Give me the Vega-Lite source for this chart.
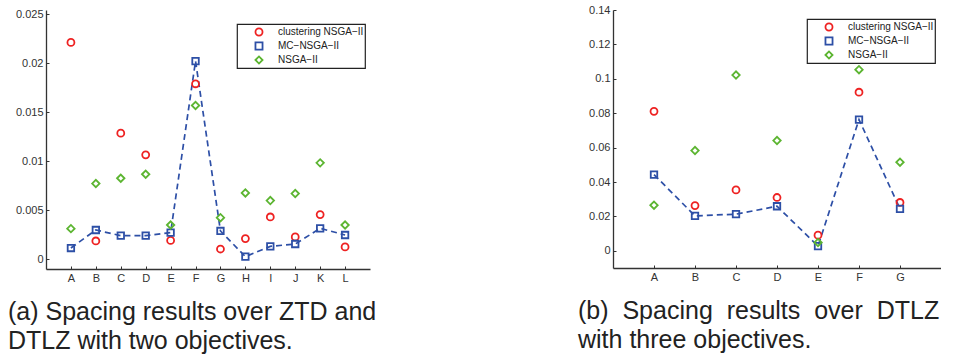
{
  "$schema": "https://vega.github.io/schema/vega-lite/v6.json",
  "background": "white",
  "padding": {"left": 8, "top": 4, "right": 0, "bottom": 0},
  "bounds": "flush",
  "spacing": 243,
  "config": {
    "view": {"stroke": null},
    "font": "Liberation Sans",
    "axis": {
      "grid": false,
      "domainColor": "#333333",
      "domainWidth": 1.3,
      "tickColor": "#333333",
      "tickSize": -3,
      "tickWidth": 1,
      "labelFont": "Liberation Sans",
      "labelFontSize": 11,
      "labelColor": "#333333",
      "labelPadding": 6,
      "labelOverlap": false,
      "labelBound": false,
      "title": null
    },
    "legend": {
      "orient": "none",
      "title": null,
      "strokeColor": "#222222",
      "strokeWidth": 1.2,
      "fillColor": "white",
      "padding": 1,
      "rowPadding": 0,
      "clipHeight": 14,
      "symbolSize": 50,
      "symbolStrokeWidth": 1.8,
      "symbolOffset": 16,
      "labelOffset": 14,
      "labelFont": "Liberation Sans",
      "labelFontSize": 10,
      "labelColor": "#222222"
    },
    "title": {
      "font": "Liberation Sans",
      "fontSize": 25,
      "fontWeight": "normal",
      "color": "#222222",
      "lineHeight": 29,
      "orient": "bottom",
      "anchor": "start",
      "frame": "group"
    }
  },
  "datasets": {
    "a": [
      {"algo": "clustering NSGA−II", "x": "A", "y": 0.0221},
      {"algo": "clustering NSGA−II", "x": "B", "y": 0.00184},
      {"algo": "clustering NSGA−II", "x": "C", "y": 0.01284},
      {"algo": "clustering NSGA−II", "x": "D", "y": 0.01063},
      {"algo": "clustering NSGA−II", "x": "E", "y": 0.0019},
      {"algo": "clustering NSGA−II", "x": "F", "y": 0.01788},
      {"algo": "clustering NSGA−II", "x": "G", "y": 0.00102},
      {"algo": "clustering NSGA−II", "x": "H", "y": 0.00208},
      {"algo": "clustering NSGA−II", "x": "I", "y": 0.00429},
      {"algo": "clustering NSGA−II", "x": "J", "y": 0.00225},
      {"algo": "clustering NSGA−II", "x": "K", "y": 0.00453},
      {"algo": "clustering NSGA−II", "x": "L", "y": 0.00123},
      {"algo": "MC−NSGA−II", "x": "A", "y": 0.00112},
      {"algo": "MC−NSGA−II", "x": "B", "y": 0.00296},
      {"algo": "MC−NSGA−II", "x": "C", "y": 0.00238},
      {"algo": "MC−NSGA−II", "x": "D", "y": 0.00238},
      {"algo": "MC−NSGA−II", "x": "E", "y": 0.00269},
      {"algo": "MC−NSGA−II", "x": "F", "y": 0.0202},
      {"algo": "MC−NSGA−II", "x": "G", "y": 0.00286},
      {"algo": "MC−NSGA−II", "x": "H", "y": 0.00024},
      {"algo": "MC−NSGA−II", "x": "I", "y": 0.00129},
      {"algo": "MC−NSGA−II", "x": "J", "y": 0.00153},
      {"algo": "MC−NSGA−II", "x": "K", "y": 0.00313},
      {"algo": "MC−NSGA−II", "x": "L", "y": 0.00245},
      {"algo": "NSGA−II", "x": "A", "y": 0.0031},
      {"algo": "NSGA−II", "x": "B", "y": 0.0077},
      {"algo": "NSGA−II", "x": "C", "y": 0.00824},
      {"algo": "NSGA−II", "x": "D", "y": 0.00865},
      {"algo": "NSGA−II", "x": "E", "y": 0.00347},
      {"algo": "NSGA−II", "x": "F", "y": 0.01567},
      {"algo": "NSGA−II", "x": "G", "y": 0.00422},
      {"algo": "NSGA−II", "x": "H", "y": 0.00674},
      {"algo": "NSGA−II", "x": "I", "y": 0.00596},
      {"algo": "NSGA−II", "x": "J", "y": 0.00668},
      {"algo": "NSGA−II", "x": "K", "y": 0.00981},
      {"algo": "NSGA−II", "x": "L", "y": 0.00347}
    ],
    "b": [
      {"algo": "clustering NSGA−II", "x": "A", "y": 0.0811},
      {"algo": "clustering NSGA−II", "x": "B", "y": 0.0263},
      {"algo": "clustering NSGA−II", "x": "C", "y": 0.0354},
      {"algo": "clustering NSGA−II", "x": "D", "y": 0.031},
      {"algo": "clustering NSGA−II", "x": "E", "y": 0.0091},
      {"algo": "clustering NSGA−II", "x": "F", "y": 0.0922},
      {"algo": "clustering NSGA−II", "x": "G", "y": 0.0281},
      {"algo": "MC−NSGA−II", "x": "A", "y": 0.0443},
      {"algo": "MC−NSGA−II", "x": "B", "y": 0.0203},
      {"algo": "MC−NSGA−II", "x": "C", "y": 0.0213},
      {"algo": "MC−NSGA−II", "x": "D", "y": 0.0259},
      {"algo": "MC−NSGA−II", "x": "E", "y": 0.0027},
      {"algo": "MC−NSGA−II", "x": "F", "y": 0.0763},
      {"algo": "MC−NSGA−II", "x": "G", "y": 0.0244},
      {"algo": "NSGA−II", "x": "A", "y": 0.0265},
      {"algo": "NSGA−II", "x": "B", "y": 0.0583},
      {"algo": "NSGA−II", "x": "C", "y": 0.1022},
      {"algo": "NSGA−II", "x": "D", "y": 0.0641},
      {"algo": "NSGA−II", "x": "E", "y": 0.0048},
      {"algo": "NSGA−II", "x": "F", "y": 0.1053},
      {"algo": "NSGA−II", "x": "G", "y": 0.0515}
    ]
  },
  "resolve": {
    "scale": {"x": "independent", "y": "independent", "color": "independent", "shape": "independent", "size": "independent"},
    "legend": {"color": "independent", "shape": "independent", "size": "independent"}
  },
  "hconcat": [
    {
      "width": 324,
      "height": 259,
      "data": {"name": "a"},
      "title": {"text": ["(a) Spacing results over ZTD and", "DTLZ with two objectives."], "dx": -38, "offset": 17},
      "layer": [
        {
          "transform": [{"filter": "datum.algo === 'MC−NSGA−II'"}],
          "mark": {"type": "line", "color": "#2d4fa6", "strokeDash": [6, 4], "strokeWidth": 1.7},
          "encoding": {
            "x": {"field": "x", "type": "ordinal", "scale": {"type": "point", "padding": 1}, "axis": {"labelAngle": 0}},
            "y": {"field": "y", "type": "quantitative", "scale": {"domain": [-0.00102, 0.02541], "nice": false, "zero": false}, "axis": {"values": [0, 0.005, 0.01, 0.015, 0.02, 0.025], "format": "~g"}}
          }
        },
        {
          "mark": {"type": "point", "filled": false, "strokeWidth": 1.8, "opacity": 1},
          "encoding": {
            "x": {"field": "x", "type": "ordinal", "scale": {"type": "point", "padding": 1}, "axis": {"labelAngle": 0}},
            "y": {"field": "y", "type": "quantitative", "scale": {"domain": [-0.00102, 0.02541], "nice": false, "zero": false}, "axis": {"values": [0, 0.005, 0.01, 0.015, 0.02, 0.025], "format": "~g"}},
            "color": {
              "field": "algo", "type": "nominal",
              "scale": {"domain": ["clustering NSGA−II", "MC−NSGA−II", "NSGA−II"], "range": ["#ee2222", "#2d4fa6", "#5cb531"]},
              "legend": {"legendX": 191, "legendY": 14}
            },
            "shape": {
              "field": "algo", "type": "nominal",
              "scale": {"domain": ["clustering NSGA−II", "MC−NSGA−II", "NSGA−II"], "range": ["circle", "square", "diamond"]},
              "legend": {"legendX": 191, "legendY": 14}
            },
            "size": {
              "field": "algo", "type": "nominal",
              "scale": {"domain": ["NSGA−II", "clustering NSGA−II", "MC−NSGA−II"], "range": [55, 42, 64]},
              "legend": null
            }
          }
        }
      ]
    },
    {
      "width": 328,
      "height": 258,
      "data": {"name": "b"},
      "title": {"text": ["(b)\u00a0 Spacing\u00a0 results\u00a0 over\u00a0 DTLZ", "with three objectives."], "dx": -35, "offset": 17},
      "layer": [
        {
          "transform": [{"filter": "datum.algo === 'MC−NSGA−II'"}],
          "mark": {"type": "line", "color": "#2d4fa6", "strokeDash": [6, 4], "strokeWidth": 1.7},
          "encoding": {
            "x": {"field": "x", "type": "ordinal", "scale": {"type": "point", "padding": 1}, "axis": {"labelAngle": 0}},
            "y": {"field": "y", "type": "quantitative", "scale": {"domain": [-0.01, 0.14], "nice": false, "zero": false}, "axis": {"values": [0, 0.02, 0.04, 0.06, 0.08, 0.1, 0.12, 0.14], "format": "~g"}}
          }
        },
        {
          "mark": {"type": "point", "filled": false, "strokeWidth": 1.8, "opacity": 1},
          "encoding": {
            "x": {"field": "x", "type": "ordinal", "scale": {"type": "point", "padding": 1}, "axis": {"labelAngle": 0}},
            "y": {"field": "y", "type": "quantitative", "scale": {"domain": [-0.01, 0.14], "nice": false, "zero": false}, "axis": {"values": [0, 0.02, 0.04, 0.06, 0.08, 0.1, 0.12, 0.14], "format": "~g"}},
            "color": {
              "field": "algo", "type": "nominal",
              "scale": {"domain": ["clustering NSGA−II", "MC−NSGA−II", "NSGA−II"], "range": ["#ee2222", "#2d4fa6", "#5cb531"]},
              "legend": {"legendX": 194, "legendY": 9}
            },
            "shape": {
              "field": "algo", "type": "nominal",
              "scale": {"domain": ["clustering NSGA−II", "MC−NSGA−II", "NSGA−II"], "range": ["circle", "square", "diamond"]},
              "legend": {"legendX": 194, "legendY": 9}
            },
            "size": {
              "field": "algo", "type": "nominal",
              "scale": {"domain": ["NSGA−II", "clustering NSGA−II", "MC−NSGA−II"], "range": [55, 42, 64]},
              "legend": null
            }
          }
        }
      ]
    }
  ]
}
